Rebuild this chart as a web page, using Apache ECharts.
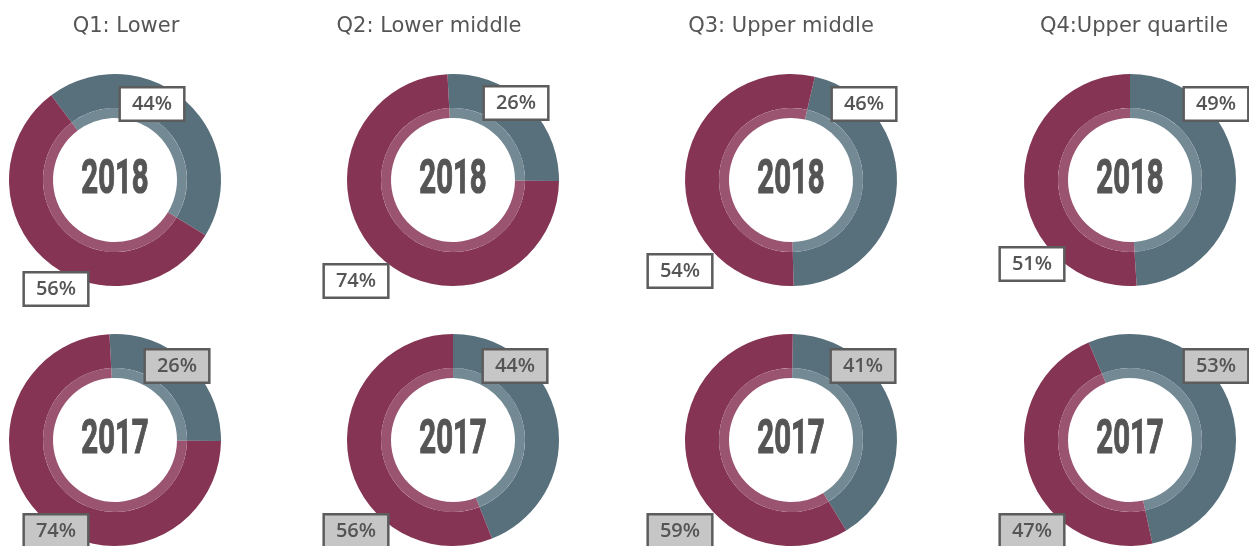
<!DOCTYPE html>
<html>
<head>
<meta charset="utf-8">
<title>Pay quartiles</title>
<script src="https://cdn.jsdelivr.net/npm/echarts@6/dist/echarts.min.js"></script>
<style>
  html, body { margin: 0; padding: 0; background: #fff; }
  #chart1 { width: 1249px; height: 546px; }
</style>
</head>
<body>
<div id="chart1"></div>
<script>
// data
const quartiles = ['Q1: Lower', 'Q2: Lower middle', 'Q3: Upper middle', 'Q4:Upper quartile'];
const years = ['2018', '2017'];
const slate2018 = [44, 26, 46, 49];
const maroon2018 = [56, 74, 54, 51];
const slate2017 = [26, 44, 41, 53];
const maroon2017 = [74, 56, 59, 47];

// layout
const colX = [115, 453, 791, 1130];
const rowY = [180, 440];
const titleX = [121, 424, 776, 1129];
// startAngle per donut (row, col) - slate slice starts here, clockwise
const startAngles = [[127, 93, 77, 90], [93, 90, 89, 113]];
// label box centers [slate, maroon] per donut
const labelPos = [
    [[[152, 104], [56, 289]], [[516, 103], [356, 281]], [[864, 104], [680, 271]], [[1216, 104], [1032, 264]]],
    [[[177, 366], [56, 531]], [[515, 366], [356, 531]], [[863, 366], [680, 531]], [[1216, 366], [1032, 531]]]
];

const slate = '#57707c', maroon = '#853553';
const slateBand = '#738a95', maroonBand = '#9a5470';

const myChart = echarts.init(document.getElementById('chart1'), null, {renderer: 'canvas'});

const series = [];
const graphic = [];
const rows = [[slate2018, maroon2018], [slate2017, maroon2017]];

rows.forEach(function (r, ri) {
    const labelBg = ri === 0 ? '#ffffff' : '#c6c6c6';
    colX.forEach(function (cx, ci) {
        const data = [
            {name: 'slate', value: r[0][ci], itemStyle: {color: slate}},
            {name: 'maroon', value: r[1][ci], itemStyle: {color: maroon}}
        ];
        const pos = labelPos[ri][ci];
        // main ring with the boxed percentage labels
        series.push({
            type: 'pie',
            center: [cx, rowY[ri]],
            radius: [72, 106],
            startAngle: startAngles[ri][ci],
            clockwise: true,
            silent: true,
            animation: false,
            avoidLabelOverlap: false,
            data: data,
            labelLine: {show: false},
            label: {
                show: true,
                formatter: '{c}%',
                fontFamily: 'Open Sans',
                fontWeight: 600,
                fontSize: 20,
                color: '#555555',
                backgroundColor: labelBg,
                borderColor: '#5c5c5c',
                borderWidth: 2.5,
                padding: [6, 11, 5, 11],
                overflow: 'none'
            },
            labelLayout: function (p) {
                const xy = pos[p.dataIndex];
                return {x: xy[0], y: xy[1], align: 'center', verticalAlign: 'middle'};
            }
        });
        // lighter inner band
        series.push({
            type: 'pie',
            center: [cx, rowY[ri]],
            radius: [62, 72],
            startAngle: startAngles[ri][ci],
            clockwise: true,
            silent: true,
            animation: false,
            label: {show: false},
            labelLine: {show: false},
            data: [
                {name: 'slate', value: r[0][ci], itemStyle: {color: slateBand}},
                {name: 'maroon', value: r[1][ci], itemStyle: {color: maroonBand}}
            ]
        });
        // year in the hole
        graphic.push({
            type: 'text',
            x: cx,
            y: rowY[ri] + 1,
            scaleX: 0.6,
            silent: true,
            style: {
                text: years[ri],
                fontFamily: 'Roboto',
                fontWeight: 'bold',
                fontSize: 49,
                fill: '#555555',
                stroke: '#555555',
                lineWidth: 1.2,
                align: 'center',
                verticalAlign: 'middle'
            }
        });
    });
});

const titles = quartiles.map(function (q, i) {
    return {
        text: q,
        left: titleX[i],
        top: 11,
        textAlign: 'center',
        textStyle: {fontFamily: 'DejaVu Sans', fontSize: 21, fontWeight: 'normal', color: '#555555'}
    };
});

const option = {
    animation: false,
    title: titles,
    graphic: graphic,
    series: series
};
myChart.setOption(option);
window.addEventListener('resize', function () {
    myChart.resize();
});
</script>
</body>
</html>
